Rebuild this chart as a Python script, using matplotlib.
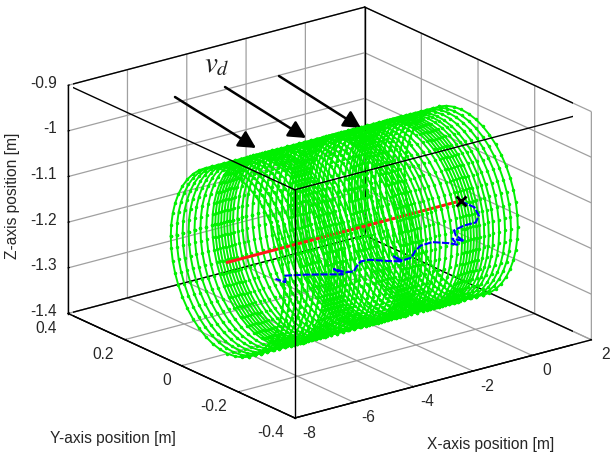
#!/usr/bin/env python3
import numpy as np
import matplotlib
matplotlib.use('Agg')
import matplotlib.pyplot as plt
from mpl_toolkits.mplot3d import proj3d

x_ticks = [-8, -6, -4, -2, 0, 2]
y_ticks = [-0.4, -0.2, 0, 0.2, 0.4]
z_ticks = [-1.4, -1.3, -1.2, -1.1, -1, -0.9]
x_labels = ['-8', '-6', '-4', '-2', '0', '2']
y_labels = ['-0.4', '-0.2', '0', '0.2', '0.4']
z_labels = ['-1.4', '-1.3', '-1.2', '-1.1', '-1', '-0.9']

# cylinder around the reference path
ring_x = [-6.45, -6.25, -6.05, -5.85, -5.65, -5.45, -5.25, -5.05, -4.95, -4.85, -4.75, -4.65,
          -4.55, -4.45, -4.35, -4.2, -4.05, -3.9, -3.7, -3.5, -3.3, -3.1, -2.9, -2.7, -2.5,
          -2.4, -2.3, -2.2, -2.1, -2.0, -1.9, -1.8, -1.65, -1.5, -1.35, -1.2, -1.0, -0.8,
          -0.6, -0.45, -0.35, -0.25, -0.15, -0.05, 0.05, 0.15, 0.3, 0.45, 0.6, 0.8, 1.0, 1.2, 1.43]
ring_radius = 0.2
ring_y0 = 0.0
ring_z0 = -1.2

ref_x = [-6.45, 1.43]
ref_y = [0.0, 0.0]
ref_z = [-1.2, -1.2]

path_x = [1.42, 1.88, 2.03, 1.92, 1.53, 1.19, 1.25, 1.53, 1.13, 1.30, 1.02, 0.46, 0.06, -0.11, -0.25, -0.56,
          -0.84, -0.61, -1.12, -1.68, -1.96, -2.11, -2.19, -2.47, -2.86, -2.56, -3.15, -3.82, -4.50, -4.50, -4.83]
path_z = [-1.201, -1.222, -1.243, -1.256, -1.256, -1.261, -1.273, -1.29, -1.278, -1.294, -1.286, -1.274, -1.275,
          -1.283, -1.296, -1.297, -1.283, -1.298, -1.288, -1.276, -1.275, -1.285, -1.293, -1.29, -1.276, -1.293,
          -1.283, -1.272, -1.2625, -1.277, -1.264]
path_y = [0.0] * len(path_x)

arrow_start = [(175, 97), (225, 87), (279, 76)]
arrow_tip = [(256, 148), (306, 138), (361, 128)]

plt.rcParams['font.family'] = ['Liberation Sans', 'DejaVu Sans']
plt.rcParams['font.size'] = 11.2
plt.rcParams['mathtext.fontset'] = 'stix'
plt.rcParams['grid.color'] = '#a0a0a0'
plt.rcParams['grid.linewidth'] = 0.9

fig = plt.figure(figsize=(6.1, 4.55), dpi=100)
S = 500
ax = fig.add_axes([(323 - S / 2) / 610, (235.7 - S / 2) / 455, S / 610, S / 455],
                  projection='3d', proj_type='ortho', computed_zorder=False)
ax.view_init(elev=20.4, azim=-127.1)
ax.set_box_aspect((371, 375, 243), zoom=1.13)
ax.set_xlim(-8, 2)
ax.set_ylim(-0.4, 0.4)
ax.set_zlim(-1.4, -0.9)
ax.patch.set_alpha(0)

ax.set_xticks(x_ticks)
ax.set_yticks(y_ticks)
ax.set_zticks(z_ticks)
ax.tick_params(labelbottom=False, labelleft=False, labeltop=False, labelright=False)
for axis in (ax.xaxis, ax.yaxis, ax.zaxis):
    axis.set_pane_color((1, 1, 1, 0))
    axis.pane.set_edgecolor((1, 1, 1, 0))
    axis.line.set_color('k')
    axis.line.set_linewidth(1.0)
    axis._axinfo['tick']['inward_factor'] = 0.0
    axis._axinfo['tick']['outward_factor'] = 0.05

xa, xb = -8, 2
ya, yb = -0.4, 0.4
za, zb = -1.4, -0.9

# tick labels sit a little off the box edges, matlab style
label_col = '#262626'
M = ax.get_proj()


def tick_text(x, y, z, s, ha):
    px, py, _ = proj3d.proj_transform(x, y, z, M)
    ax.text2D(px, py, s, transform=ax.transData, ha=ha, va='center', color=label_col, zorder=7)


for t, s in zip(x_ticks, x_labels):
    tick_text(t, ya - 0.05, za - 0.0186, s, 'center')
for t, s in zip(y_ticks, y_labels):
    tick_text(xa - 0.37, t, za - 0.0265, s, 'right')
for t, s in zip(z_ticks, z_labels):
    tick_text(xa - 0.372, yb, t + 0.0107, s, 'right')

# box edges: the ones behind go under the rings, the ones in front go over
back = [([xa, xb], [yb, yb], [za, za]), ([xb, xb], [ya, yb], [za, za]),
        ([xa, xa], [yb, yb], [za, zb]), ([xb, xb], [yb, yb], [za, zb]), ([xb, xb], [ya, ya], [za, zb]),
        ([xa, xb], [yb, yb], [zb, zb]), ([xb, xb], [ya, yb], [zb, zb])]
front = [([xa, xa], [ya, ya], [za, zb]), ([xa, xb], [ya, ya], [zb, zb]), ([xa, xa], [ya, yb], [zb, zb]),
         ([xa, xb], [ya, ya], [za, za]), ([xa, xa], [ya, yb], [za, za])]
for ex, ey, ez in back:
    ax.plot(ex, ey, ez, color='k', lw=1.0, zorder=1)
for ex, ey, ez in front:
    ax.plot(ex, ey, ez, color='k', lw=1.0, zorder=6)

ring_deg = np.arange(0, 361, 7.5)
ry = ring_y0 + ring_radius * np.cos(np.radians(ring_deg))
rz = ring_z0 + ring_radius * np.sin(np.radians(ring_deg))
back_a = ring_deg <= 67.5
near = (ring_deg >= 67.5) & (ring_deg <= 247.5)
back_b = ring_deg >= 247.5
ring_style = dict(color='#00f000', lw=1.4, marker='.', ms=3.0)
for rx in ring_x:
    xs = np.full(ring_deg.shape, rx)
    ax.plot(xs[back_a], ry[back_a], rz[back_a], zorder=2, **ring_style)
    ax.plot(xs[back_b], ry[back_b], rz[back_b], zorder=2, **ring_style)
    ax.plot(xs[near], ry[near], rz[near], zorder=4, **ring_style)

ax.plot(ref_x, ref_y, ref_z, color='#ff1a1a', lw=2.2, zorder=3)
ax.plot(path_x, path_y, path_z, color='#0000ff', lw=1.5, ls=(0, (3.5, 0.8)), zorder=5)
ax.plot(path_x[:1], path_y[:1], path_z[:1], color='k', ls='none', marker='x', ms=7.5, mew=2.0, zorder=5)

for start, tip in zip(arrow_start, arrow_tip):
    ax.annotate('', xy=(tip[0] / 610, 1 - tip[1] / 455), xytext=(start[0] / 610, 1 - start[1] / 455),
                xycoords='figure fraction', textcoords='figure fraction',
                arrowprops=dict(arrowstyle='-|>,head_length=0.8,head_width=0.42', color='k', lw=1.8,
                                mutation_scale=13, shrinkA=0, shrinkB=0))
fig.text(217 / 610, 1 - 64 / 455, r'$v_d$', fontsize=21, ha='center', va='center', color='#222222')

fig.text(13 / 610, 1 - 196 / 455, 'Z-axis position [m]', rotation=90, ha='center', va='center', color=label_col)
fig.text(113 / 610, 1 - 438 / 455, 'Y-axis position [m]', ha='center', va='center', color=label_col)
fig.text(491 / 610, 1 - 444 / 455, 'X-axis position [m]', ha='center', va='center', color=label_col)

fig.savefig('out.png', dpi=100)
